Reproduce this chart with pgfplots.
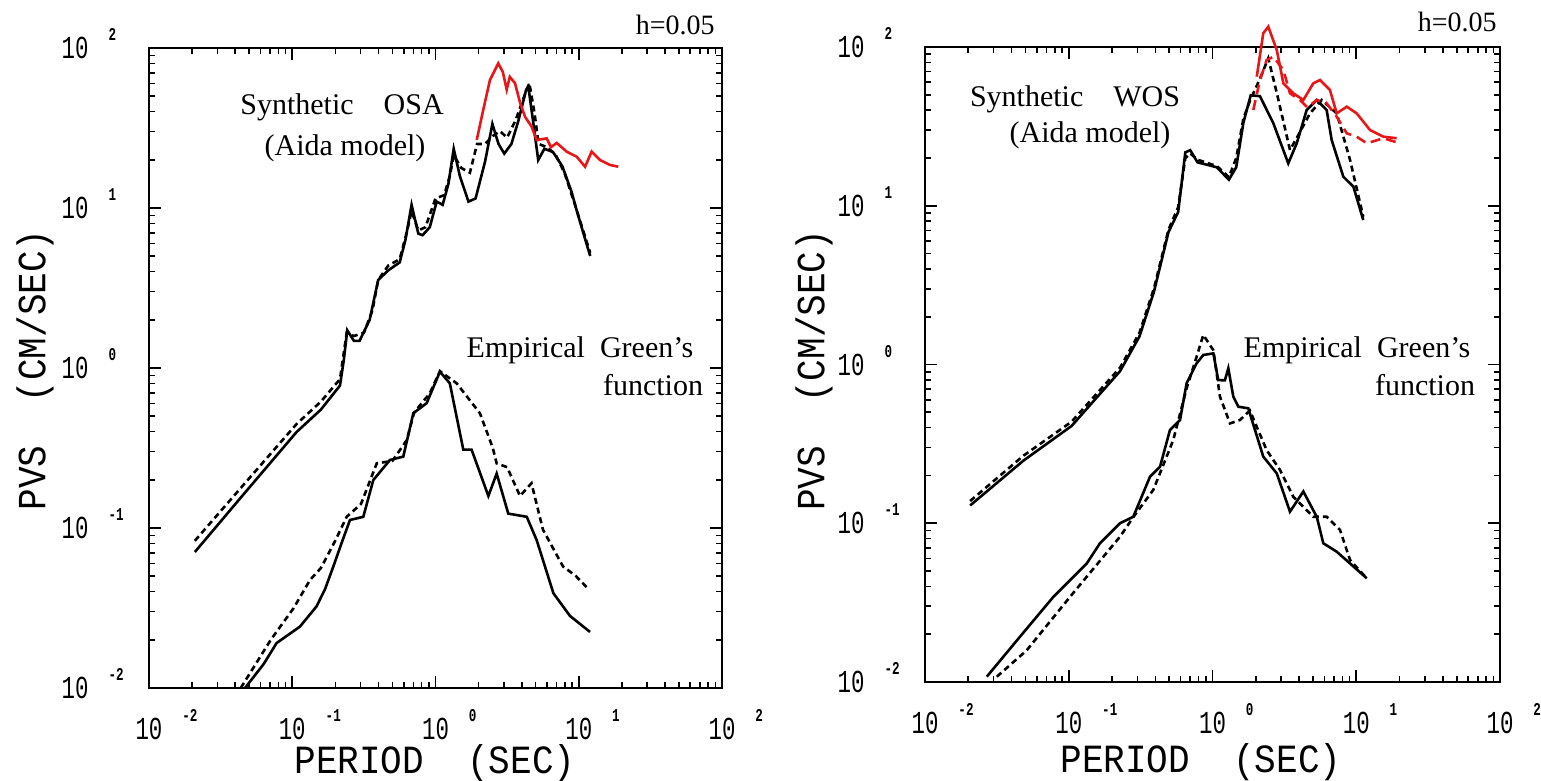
\documentclass[border=0pt]{standalone}
\usepackage{fontspec}
\setmainfont{Liberation Serif}
\newfontfamily\lblfont[FakeStretch=0.9]{Liberation Mono}
\newfontfamily\tickfont[FakeStretch=0.7]{Liberation Mono}
\usepackage{pgfplots}
\pgfplotsset{compat=1.18}
\definecolor{pred}{RGB}{232,22,22}

% "10" with a small raised exponent set off to the right
\newcommand{\tlab}[1]{{\fontsize{16}{16}\tickfont 10}\rlap{\hspace{10pt}\smash{\raisebox{9pt}{\fontsize{9}{9}\tickfont\bfseries #1}}}}

\tikzset{sol/.style={black, line width=1.3pt},
  dsh/.style={black, line width=1.3pt, dash pattern=on 3pt off 2pt},
  rsol/.style={pred, line width=1.3pt},
  rdsh/.style={pred, line width=1.3pt, dash pattern=on 5pt off 3pt}}

\begin{document}
\begin{tikzpicture}
\useasboundingbox (0,0) rectangle (770.5pt,390.5pt);

% ---------- left panel: OSA ----------
\begin{axis}[scale only axis, anchor=south west,
  at={(74.5pt,46.5pt)}, width=286.5pt, height=320pt,
  xmode=log, ymode=log, xmin=0.01, xmax=100, ymin=0.01, ymax=100,
  xtick={0.01,0.1,1,10,100}, ytick={0.01,0.1,1,10,100},
  xticklabels={\tlab{-2},\tlab{-1},\tlab{0},\tlab{1},\tlab{2}},
  yticklabels={\tlab{-2},\tlab{-1},\tlab{0},\tlab{1},\tlab{2}},
  xticklabel style={anchor=north, inner sep=0pt, yshift=-15pt},
  yticklabel style={anchor=east, inner sep=0pt, xshift=-30pt},
  axis line style={line width=1.4pt},
  major tick length=6pt, minor tick length=3pt,
  tick style={black, line width=0.8pt},
  tick align=inside,
  xlabel={PERIOD\ \ (SEC)}, ylabel={PVS\ \ (CM/SEC)},
  label style={font=\fontsize{20}{20}\lblfont, inner sep=0pt},
  xlabel style={at={(axis description cs:0.499,-0.118)}, anchor=center},
  ylabel style={at={(axis description cs:-0.199,0.497)}, anchor=center},
  clip=false]
% synthetic, solid
\addplot[sol] coordinates {
 (0.0209,0.0708) (0.0447,0.1585) (0.1072,0.3981) (0.1585,0.5495) (0.2153,0.7762)
 (0.2291,1.122) (0.2421,1.722) (0.2692,1.479) (0.2951,1.479) (0.3467,1.995)
 (0.3981,3.548) (0.4677,4.074) (0.5623,4.571) (0.6166,6.310) (0.6808,10.47)
 (0.7586,6.918) (0.8128,6.761) (0.9120,7.586) (1.019,10.96) (1.122,10.47)
 (1.230,14.13) (1.340,23.44) (1.479,15.85) (1.698,10.96) (1.905,11.48)
 (2.218,19.50) (2.495,33.50) (2.754,25.12) (3.020,21.88) (3.388,25.12)
 (3.802,35.48) (4.295,54.95) (4.446,57.54) (4.786,35.48) (5.212,19.95)
 (5.754,23.44) (6.607,22.39) (7.691,18.20) (8.913,12.59) (9.705,9.550)
 (10.96,6.607) (12.02,5.012)};
% synthetic, dashed
\addplot[dsh] coordinates {
 (0.0209,0.0832) (0.0447,0.182) (0.1072,0.4467) (0.1585,0.6166) (0.2153,0.8511)
 (0.2399,1.660) (0.2692,1.585) (0.3162,1.660) (0.3631,2.291) (0.3981,3.548)
 (0.4677,4.365) (0.5623,4.786) (0.6310,7.079) (0.6808,9.550) (0.7586,7.244)
 (0.8511,7.586) (1.0,11.48) (1.148,12.02) (1.259,15.85) (1.340,21.38)
 (1.514,17.78) (1.738,16.60) (1.950,25.12) (2.218,25.12) (2.512,28.18)
 (2.818,30.20) (3.162,27.54) (3.631,35.48) (4.169,50.12) (4.519,60.26)
 (4.898,39.81) (5.248,25.12) (6.026,23.99) (6.918,21.38) (7.943,16.60)
 (9.333,10.72) (10.72,7.244) (12.02,5.248)};
% observed (red)
\addplot[rsol] coordinates {
 (1.941,26.61) (2.138,39.81) (2.399,63.10) (2.742,80.17) (2.951,70.79)
 (3.141,54.95) (3.300,66.00) (3.589,60.26) (3.890,45.71) (4.217,37.15)
 (4.677,32.36) (5.082,26.61) (5.970,27.23) (6.400,24.00) (7.015,25.50)
 (8.241,22.49) (9.683,20.89) (11.07,18.11) (12.30,22.49) (14.06,19.95)
 (16.52,18.58) (18.88,18.11)};
% empirical Green's function, solid
\addplot[sol] coordinates {
 (0.0468,0.0100) (0.0631,0.0141) (0.0778,0.0191) (0.1132,0.0242) (0.1479,0.0324)
 (0.1698,0.0417) (0.1936,0.0575) (0.2239,0.0832) (0.2529,0.1122) (0.3133,0.1175)
 (0.3681,0.1995) (0.4808,0.2661) (0.5957,0.2793) (0.6998,0.5212) (0.8670,0.6026)
 (1.074,0.9484) (1.259,0.8017) (1.563,0.3090) (1.786,0.3090) (2.339,0.1585)
 (2.673,0.2188) (3.221,0.1230) (4.335,0.1175) (5.082,0.0841) (6.653,0.0391)
 (8.690,0.0282) (11.99,0.0224)};
% empirical Green's function, dashed
\addplot[dsh] coordinates {
 (0.0437,0.0100) (0.0708,0.0200) (0.1023,0.0316) (0.1330,0.0473) (0.1585,0.0562)
 (0.1995,0.0832) (0.2399,0.1175) (0.3020,0.1413) (0.3890,0.2535) (0.5012,0.2630)
 (0.6310,0.3548) (0.7079,0.5248) (0.9120,0.6950) (1.074,0.9550) (1.406,0.8017)
 (2.042,0.5212) (2.512,0.3162) (2.673,0.2535) (3.162,0.2399) (3.890,0.1585)
 (4.677,0.1905) (5.623,0.0977) (7.762,0.0575) (9.550,0.0501) (11.35,0.0427)};
\end{axis}

% ---------- right panel: WOS ----------
\begin{axis}[scale only axis, anchor=south west,
  at={(462.5pt,49.5pt)}, width=287.5pt, height=317.5pt,
  xmode=log, ymode=log, xmin=0.01, xmax=100, ymin=0.01, ymax=100,
  xtick={0.01,0.1,1,10,100}, ytick={0.01,0.1,1,10,100},
  xticklabels={\tlab{-2},\tlab{-1},\tlab{0},\tlab{1},\tlab{2}},
  yticklabels={\tlab{-2},\tlab{-1},\tlab{0},\tlab{1},\tlab{2}},
  xticklabel style={anchor=north, inner sep=0pt, yshift=-15pt},
  yticklabel style={anchor=east, inner sep=0pt, xshift=-30pt},
  axis line style={line width=1.4pt},
  major tick length=6pt, minor tick length=3pt,
  tick style={black, line width=0.8pt},
  tick align=inside,
  xlabel={PERIOD\ \ (SEC)}, ylabel={PVS\ \ (CM/SEC)},
  label style={font=\fontsize{20}{20}\lblfont, inner sep=0pt},
  xlabel style={at={(axis description cs:0.48,-0.126)}, anchor=center},
  ylabel style={at={(axis description cs:-0.193,0.491)}, anchor=center},
  clip=false]
\addplot[sol] coordinates {
 (0.0206,0.1294) (0.0483,0.2477) (0.1047,0.4102) (0.2275,0.9078) (0.3105,1.503)
 (0.3917,2.877) (0.4943,6.839) (0.5768,9.120) (0.6471,21.68) (0.6998,22.39)
 (0.7870,18.75) (0.9183,18.11) (1.072,17.46) (1.300,14.59) (1.462,17.46)
 (1.641,33.42) (1.845,49.66) (2.138,48.98) (2.649,33.11) (3.365,18.49)
 (3.855,24.72) (4.519,40.09) (5.309,46.34) (6.223,40.09) (6.745,25.94)
 (8.128,15.24) (9.550,13.18) (11.19,8.128)};
\addplot[dsh] coordinates {
 (0.0206,0.1380) (0.0483,0.2661) (0.1047,0.4365) (0.2275,0.9550) (0.3105,1.585)
 (0.3917,3.020) (0.4943,7.079) (0.5768,9.772) (0.6471,19.95) (0.6998,21.38)
 (0.7870,19.50) (0.9183,18.62) (1.072,17.78) (1.300,15.14) (1.462,19.95)
 (1.641,35.48) (1.820,45.71) (2.138,63.10) (2.443,84.92) (2.818,50.12)
 (3.459,22.44) (3.981,28.18) (4.764,38.19) (5.754,46.34) (7.311,38.19)
 (9.057,19.41) (11.19,8.531)};
\addplot[rsol] coordinates {
 (2.032,65.01) (2.254,121.9) (2.443,134.3) (2.799,95.72) (3.112,59.02)
 (3.648,51.05) (4.285,46.34) (5.023,59.02) (5.598,61.94) (6.561,53.58)
 (7.311,38.19) (8.590,42.07) (10.07,38.19) (12.47,29.99) (15.42,27.23)
 (19.10,26.61)};
\addplot[rdsh] coordinates {
 (1.923,40.09) (2.138,61.94) (2.382,82.79) (2.649,86.90) (3.112,71.61)
 (3.459,51.05) (4.064,46.34) (4.571,41.69) (5.309,46.34) (6.166,44.67)
 (7.311,36.39) (8.590,28.58) (10.07,27.23) (11.83,24.72) (15.42,26.61)
 (19.10,25.12)};
\addplot[sol] coordinates {
 (0.0269,0.0108) (0.0458,0.0193) (0.0782,0.0344) (0.1334,0.0558) (0.1648,0.0748)
 (0.2275,0.1000) (0.2812,0.1099) (0.3673,0.1963) (0.4315,0.2270) (0.5058,0.3864)
 (0.5943,0.4467) (0.6607,0.7621) (0.7762,1.019) (0.8630,1.148) (1.014,1.175)
 (1.096,0.7980) (1.219,0.7943) (1.288,0.9462) (1.396,0.6266) (1.514,0.5420)
 (1.774,0.5297) (2.254,0.2630) (2.799,0.2061) (3.459,0.1183) (4.285,0.1585)
 (5.309,0.1099) (5.902,0.0748) (7.311,0.0662) (9.057,0.0558) (11.83,0.0450)};
\addplot[dsh] coordinates {
 (0.0316,0.0108) (0.0509,0.0158) (0.1021,0.0344) (0.2275,0.0824) (0.2818,0.1096)
 (0.3873,0.1622) (0.5333,0.3342) (0.6607,0.7079) (0.7762,1.122) (0.8630,1.535)
 (1.014,1.230) (1.127,0.6266) (1.324,0.4256) (1.552,0.4467) (1.820,0.5129)
 (2.382,0.2884) (2.951,0.2163) (3.648,0.1469) (5.023,0.1099) (6.223,0.1099)
 (7.709,0.0908) (9.057,0.0586) (11.83,0.0450)};
\end{axis}

% annotations
\begin{scope}[every node/.style={font=\fontsize{15}{15}\selectfont, inner sep=0pt}]
\node at (171pt,337pt) {Synthetic\quad OSA};
\node at (172.5pt,316.5pt) {(Aida model)};
\node at (290pt,215.5pt) {Empirical\enspace Green's};
\node at (326.5pt,198pt) {function};
\node[anchor=east, font=\fontsize{14}{14}\selectfont] at (357.5pt,378pt) {h=0.05};
\node at (537.5pt,341pt) {Synthetic\quad WOS};
\node at (545pt,323pt) {(Aida model)};
\node at (678.5pt,215.5pt) {Empirical\enspace Green's};
\node at (712.5pt,198pt) {function};
\node[anchor=east, font=\fontsize{14}{14}\selectfont] at (748.5pt,379.5pt) {h=0.05};
\end{scope}
\end{tikzpicture}
\end{document}
